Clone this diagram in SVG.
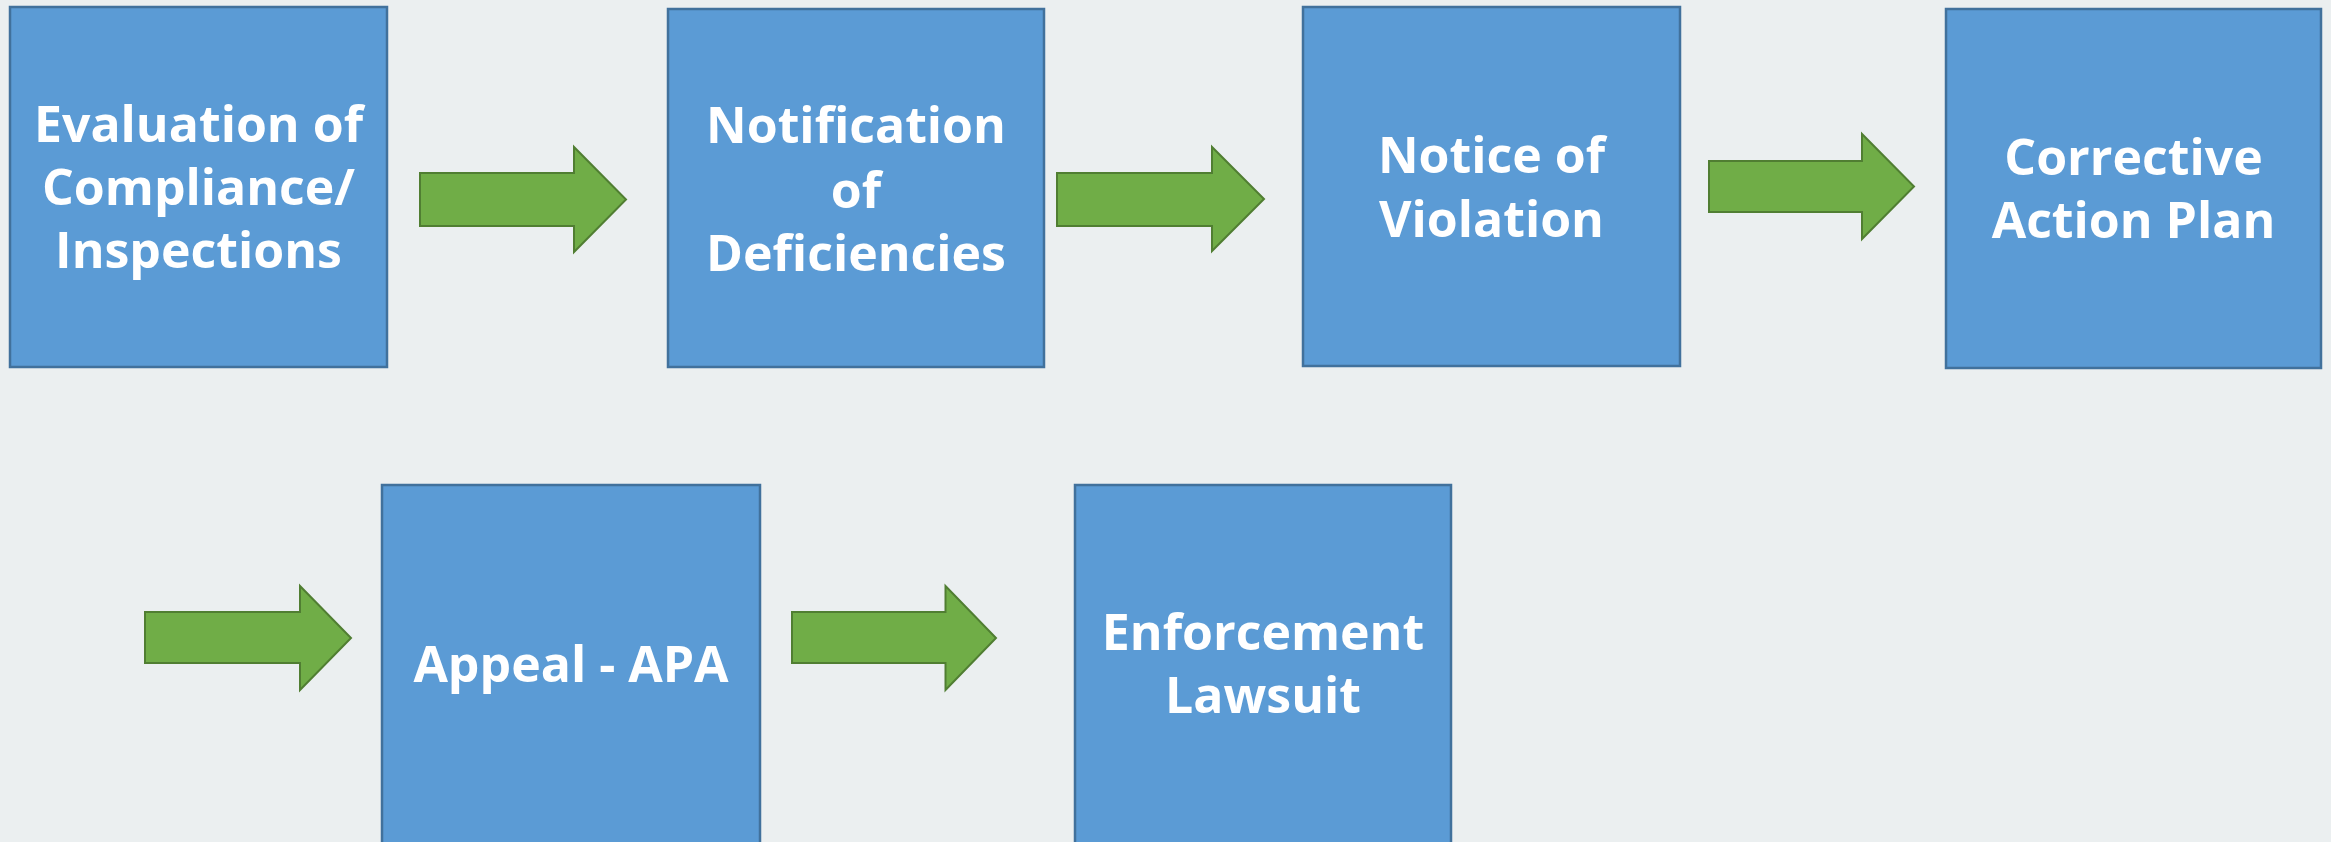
<svg xmlns="http://www.w3.org/2000/svg" width="2331" height="842" viewBox="0 0 2331 842">
<style>
.box{fill:#5B9BD5;stroke:#41719C;stroke-width:2.5}
.arr{fill:#70AD47;stroke:#507E32;stroke-width:2}
.lbl{fill:#FFFFFF;font-family:"Open Sans","Noto Sans","Liberation Sans",sans-serif;font-weight:bold;font-size:50px;text-anchor:middle}
</style>
<rect x="0" y="0" width="2331" height="842" fill="#EBEFF0"/>
<g id="connectors">
<polygon class="arr" points="420,173 574,173 574,147 626,199.5 574,252 574,226 420,226"/>
<polygon class="arr" points="1057,173 1212,173 1212,147 1264,199 1212,251 1212,226 1057,226"/>
<polygon class="arr" points="1709,161 1862,161 1862,134 1914,186.5 1862,239 1862,212 1709,212"/>
<polygon class="arr" points="145,612 300,612 300,586 351,638 300,690 300,663 145,663"/>
<polygon class="arr" points="792,612 945.5,612 945.5,586 996,638 945.5,690 945.5,663 792,663"/>
</g>
<g id="n1">
<rect class="box" x="10" y="7" width="377" height="360"/>
<text class="lbl" x="198.5" y="142">Evaluation of</text>
<text class="lbl" x="198.5" y="205">Compliance/</text>
<text class="lbl" x="198.5" y="268">Inspections</text>
</g>
<g id="n2">
<rect class="box" x="668" y="9" width="376" height="358"/>
<text class="lbl" x="856" y="143">Notification</text>
<text class="lbl" x="856" y="207.5">of</text>
<text class="lbl" x="856" y="271">Deficiencies</text>
</g>
<g id="n3">
<rect class="box" x="1303" y="7" width="377" height="359"/>
<text class="lbl" x="1491.5" y="173">Notice of</text>
<text class="lbl" x="1491.5" y="237">Violation</text>
</g>
<g id="n4">
<rect class="box" x="1946" y="9" width="375" height="359"/>
<text class="lbl" x="2133.5" y="175">Corrective</text>
<text class="lbl" x="2133.5" y="238">Action Plan</text>
</g>
<g id="n5">
<rect class="box" x="382" y="485" width="378" height="380"/>
<text class="lbl" x="571" y="682">Appeal - APA</text>
</g>
<g id="n6">
<rect class="box" x="1075" y="485" width="376" height="380"/>
<text class="lbl" x="1263" y="650">Enforcement</text>
<text class="lbl" x="1263" y="713">Lawsuit</text>
</g>
</svg>
